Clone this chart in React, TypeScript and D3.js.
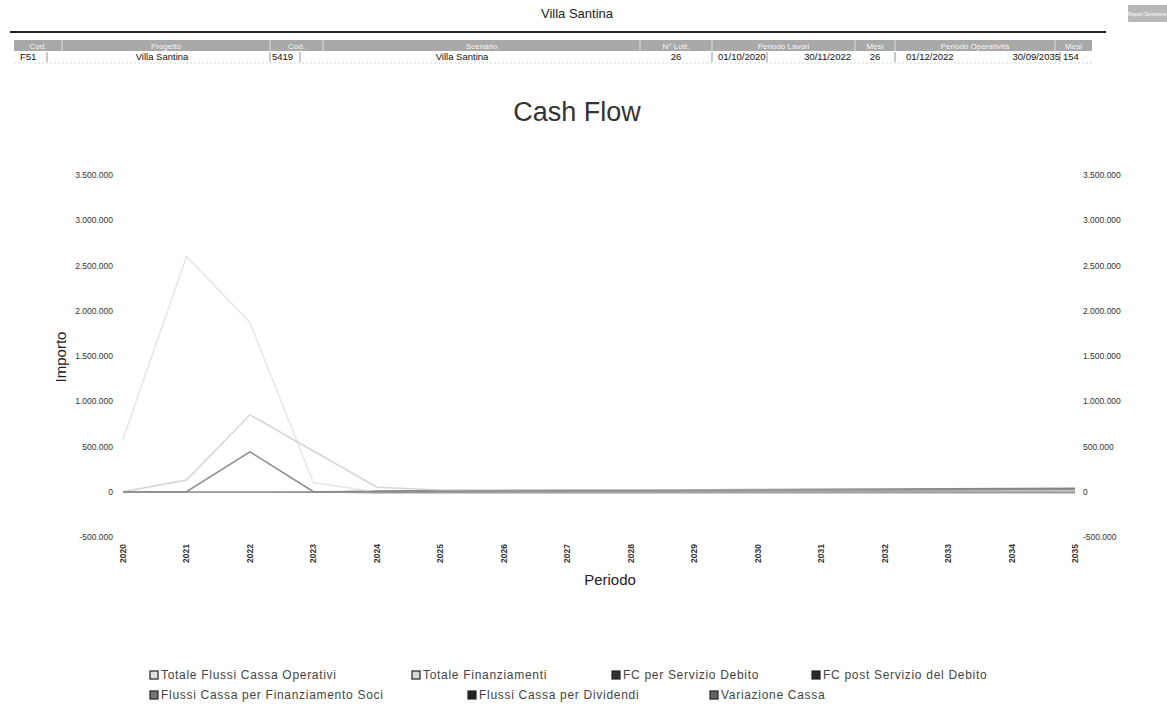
import React from "react";
import * as d3 from "d3";

// anni del periodo
const years = ["2020", "2021", "2022", "2023", "2024", "2025", "2026", "2027", "2028", "2029", "2030", "2031", "2032", "2033", "2034", "2035"];
const yTicks = [-500000, 0, 500000, 1000000, 1500000, 2000000, 2500000, 3000000, 3500000];

// serie (in euro)
const fcOperativi = [0, 0, 0, -5000, 8000, 12000, 15000, 18000, 20000, 22000, 25000, 27000, 30000, 32000, 35000, 38000];
const totFinanziamenti = [580000, 2600000, 1870000, 100000, 0, 0, 0, 0, 0, 0, 0, 0, 0, 0, 0, 0];
const fcServizioDebito = [0, 0, 0, 0, -10000, -10000, -10000, -10000, -10000, -10000, -10000, -10000, -10000, -10000, -10000, -10000];
const fcPostServizio = [0, 0, 0, -5000, 0, 2000, 5000, 8000, 10000, 12000, 15000, 18000, 20000, 22000, 25000, 28000];
const finSoci = [0, 130000, 850000, 450000, 50000, 20000, 20000, 20000, 20000, 20000, 20000, 20000, 20000, 20000, 20000, 20000];
const dividendi = [0, 0, 0, 0, 0, 0, 0, 0, 0, 0, 0, 0, 0, 0, 0, 0];
const variazioneCassa = [0, 0, 440000, 0, 3000, 5000, 8000, 10000, 12000, 14000, 16000, 18000, 20000, 22000, 24000, 26000];

const series = [
  { name: "Totale Flussi Cassa Operativi", values: fcOperativi, color: "#8a8a8a", box: "#e0e0e0" },
  { name: "Totale Finanziamenti", values: totFinanziamenti, color: "#e6e6e6", box: "#d8d8d8" },
  { name: "FC per Servizio Debito", values: fcServizioDebito, color: "#9a9a9a", box: "#333" },
  { name: "FC post Servizio del Debito", values: fcPostServizio, color: "#7a7a7a", box: "#2a2a2a" },
  { name: "Flussi Cassa per Finanziamento Soci", values: finSoci, color: "#d4d4d4", box: "#777" },
  { name: "Flussi Cassa per Dividendi", values: dividendi, color: "#aaa", box: "#222" },
  { name: "Variazione Cassa", values: variazioneCassa, color: "#8c8c8c", box: "#666" },
];

// tabella di testata
const headCols = [
  { label: "Cod.", x0: 14, x1: 62 },
  { label: "Progetto", x0: 62, x1: 270 },
  { label: "Cod.", x0: 270, x1: 323 },
  { label: "Scenario", x0: 323, x1: 640 },
  { label: "N° Lott.", x0: 640, x1: 712 },
  { label: "Periodo Lavori", x0: 712, x1: 855 },
  { label: "Mesi", x0: 855, x1: 895 },
  { label: "Periodo Operatività", x0: 895, x1: 1055 },
  { label: "Mesi", x0: 1055, x1: 1092 },
];
const rowCells = [
  { text: "F51", x: 20, anchor: "start" },
  { text: "Villa Santina", x: 162, anchor: "middle" },
  { text: "5419", x: 272, anchor: "start" },
  { text: "Villa Santina", x: 462, anchor: "middle" },
  { text: "26", x: 676, anchor: "middle" },
  { text: "01/10/2020", x: 718, anchor: "start" },
  { text: "30/11/2022", x: 851, anchor: "end" },
  { text: "26", x: 875, anchor: "middle" },
  { text: "01/12/2022", x: 906, anchor: "start" },
  { text: "30/09/2035", x: 1060, anchor: "end" },
  { text: "154", x: 1063, anchor: "start" },
];

const itLocale = d3.formatLocale({ decimal: ",", thousands: ".", grouping: [3], currency: ["€", ""], minus: "-" });
const fmt = itLocale.format(",");

export default function App() {
  const W = 1167, H = 714;
  const x = d3.scalePoint().domain(years).range([123, 1075]);
  const y = d3.scaleLinear().domain([-500000, 3500000]).range([537, 175]);
  const line = d3.line<number>().x((_, i) => x(years[i]) as number).y(d => y(d));

  const font = "'Liberation Sans', Arial, sans-serif";
  const legendPos = [
    [150, 679], [412, 679], [612, 679], [812, 679],
    [150, 699], [468, 699], [710, 699],
  ];

  return (
    <svg width={W} height={H} style={{ position: "fixed", left: 0, top: 0, background: "#fff" }} fontFamily={font}>
      {/* titolo e linea */}
      <text x={577} y={18} textAnchor="middle" fontSize={13} fill="#222">Villa Santina</text>
      <line x1={10} x2={1106} y1={32} y2={32} stroke="#222" strokeWidth={2} />
      <rect x={1128} y={5} width={39} height={17} fill="#b8b8b8" />
      <text x={1147} y={16} textAnchor="middle" fontSize={5} fill="#fff">Report Selezione</text>

      {/* tabella */}
      <rect x={14} y={40} width={1078} height={11} fill="#a9a9a9" />
      {headCols.map((c, i) => (
        <g key={i}>
          {i > 0 && <line x1={c.x0} x2={c.x0} y1={40} y2={51} stroke="#ddd" strokeWidth={1} />}
          <text x={(c.x0 + c.x1) / 2} y={49} textAnchor="middle" fontSize={8} fill="#f4f4f4">{c.label}</text>
        </g>
      ))}
      {[47, 270, 300, 712, 767, 895, 1060].map((v, i) => (
        <line key={i} x1={v} x2={v} y1={52} y2={62} stroke="#777" strokeWidth={0.8} />
      ))}
      <line x1={14} x2={1092} y1={63} y2={63} stroke="#bbb" strokeWidth={0.6} strokeDasharray="2,2" />
      {rowCells.map((c, i) => (
        <text key={i} x={c.x} y={60} textAnchor={c.anchor as any} fontSize={9.5} fill="#111">{c.text}</text>
      ))}

      <text x={577} y={121} textAnchor="middle" fontSize={27} fill="#333">Cash Flow</text>

      {/* assi */}
      {yTicks.map(t => (
        <g key={t} fontSize={8.5} fill="#333">
          <text x={113} y={y(t) + 3} textAnchor="end">{fmt(t)}</text>
          <text x={1083} y={y(t) + 3} textAnchor="start">{fmt(t)}</text>
        </g>
      ))}
      {years.map(yr => (
        <text key={yr} transform={`translate(${(x(yr) as number) + 3},${544}) rotate(-90)`} textAnchor="end"
          fontSize={8.5} fontWeight="bold" fill="#333">{yr}</text>
      ))}
      <text transform={`translate(66,357) rotate(-90)`} textAnchor="middle" fontSize={15} fill="#222">Importo</text>
      <text x={610} y={585} textAnchor="middle" fontSize={15} fill="#222">Periodo</text>

      <line x1={123} x2={1075} y1={y(0)} y2={y(0)} stroke="#ccc" strokeWidth={1} />
      {series.map(s => (
        <path key={s.name} d={line(s.values) || ""} fill="none" stroke={s.color} strokeWidth={1.5} />
      ))}

      {/* legenda */}
      {series.map((s, i) => (
        <g key={s.name} transform={`translate(${legendPos[i][0]},${legendPos[i][1]})`}>
          <rect x={0} y={-8} width={8} height={8} fill={s.box} stroke="#222" strokeWidth={1.2} />
          <text x={11} y={0} fontSize={12} fill="#444" letterSpacing={0.7}>{s.name}</text>
        </g>
      ))}
    </svg>
  );
}
